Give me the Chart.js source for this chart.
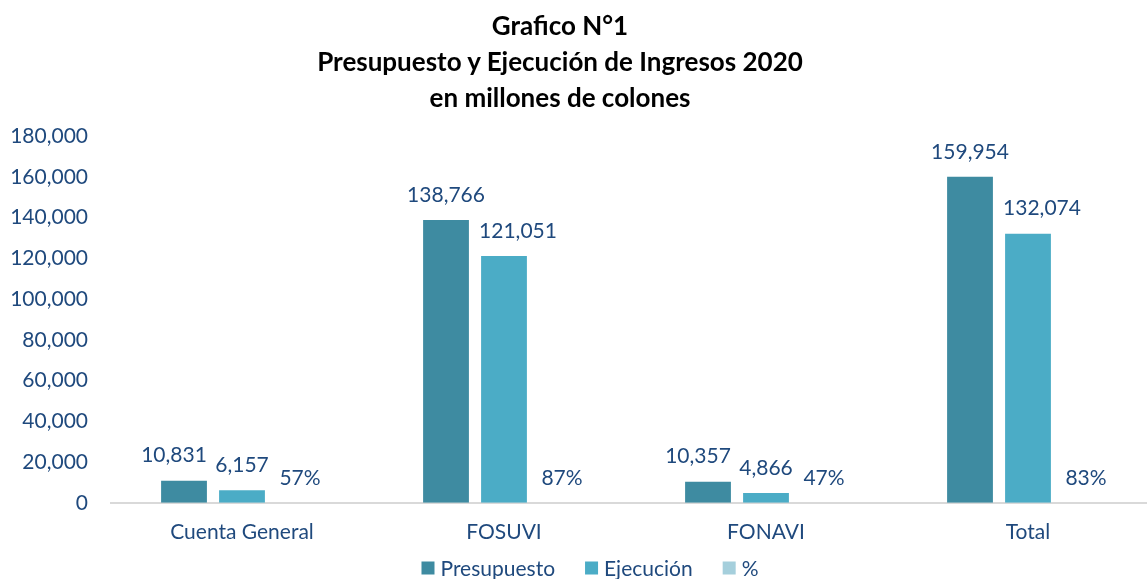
<!DOCTYPE html>
<html>
<head>
<meta charset="utf-8">
<script src="https://cdn.jsdelivr.net/npm/chart.js@4"></script>
<style>
  html, body { margin: 0; padding: 0; background: #fff; overflow: hidden; }
  #wrap { position: relative; width: 1147px; height: 579px; overflow: hidden; }
  #title {
    position: absolute; left: 0; top: 7px; width: 1120px; text-align: center;
    font-family: Lato, "Open Sans", sans-serif; font-weight: bold; font-size: 26px;
    line-height: 36px; color: #000;
  }
  canvas { position: absolute; left: 0; top: 0; }
</style>
</head>
<body>
<div id="wrap">
  <canvas id="chart" width="1175" height="579"></canvas>
  <div id="title">Grafico N°1<br>Presupuesto y Ejecución de Ingresos 2020<br>en millones de colones</div>
</div>
<script>
  // ── Data ──────────────────────────────────────────
  const categories  = ["Cuenta General", "FOSUVI", "FONAVI", "Total"];
  const presupuesto = [10831, 138766, 10357, 159954];
  const ejecucion   = [6157, 121051, 4866, 132074];
  const porcentaje  = [57, 87, 47, 83];   // % de ejecución
  const yTicks      = [0, 20000, 40000, 60000, 80000, 100000, 120000, 140000, 160000, 180000];

  const TXT  = "#1F497D";
  const FONT = "Lato, 'Open Sans', sans-serif";
  const FS   = 21;

  // % is plotted on the value axis as a fraction, so its bar is practically invisible
  const pctOnAxis = porcentaje.map(p => p / 100);

  // ── Labels above the bars ─────────────────────────
  const barLabels = {
    id: "barLabels",
    afterDatasetsDraw(chart) {
      const ctx = chart.ctx;
      ctx.save();
      ctx.font = FS + "px " + FONT;
      ctx.fillStyle = TXT;
      ctx.textAlign = "center";
      ctx.textBaseline = "middle";
      chart.data.datasets.forEach((ds, i) => {
        chart.getDatasetMeta(i).data.forEach((bar, j) => {
          const txt = ds.label === "%"
            ? porcentaje[j] + "%"
            : ds.data[j].toLocaleString("en-US");
          // nudge labels apart where neighbours would touch (as in the original)
          let dx = 0;
          if (i === 0 && ds.data[j] < 20000) dx = -10;
          if (i === 1 && ds.data[j] > 100000) dx = 14;
          ctx.fillText(txt, bar.x + dx, bar.y - 25);
        });
      });
      ctx.restore();
    }
  };

  // ── Legend (drawn by hand for Excel-like spacing) ─
  const bottomLegend = {
    id: "bottomLegend",
    afterDraw(chart) {
      const ctx = chart.ctx;
      const items = chart.data.datasets;
      ctx.save();
      ctx.font = FS + "px " + FONT;
      const box = 13, gapText = 6, gapItem = 30;
      const widths = items.map(d => box + gapText + ctx.measureText(d.label).width);
      const total = widths.reduce((a, b) => a + b, 0) + gapItem * (items.length - 1);
      let x = 590 - total / 2;
      const y = 568;
      ctx.textBaseline = "middle";
      ctx.textAlign = "left";
      items.forEach((d, i) => {
        ctx.fillStyle = d.backgroundColor;
        ctx.fillRect(x, y - box / 2, box, box);
        ctx.fillStyle = TXT;
        ctx.fillText(d.label, x + box + gapText, y + 1);
        x += widths[i] + gapItem;
      });
      ctx.restore();
    }
  };

  new Chart(document.getElementById("chart"), {
    type: "bar",
    data: {
      labels: categories,
      datasets: [
        { label: "Presupuesto", data: presupuesto, backgroundColor: "#3E8BA1" },
        { label: "Ejecución",   data: ejecucion,   backgroundColor: "#4BACC6" },
        { label: "%",           data: pctOnAxis,   backgroundColor: "#A5CFDC" }
      ]
    },
    options: {
      responsive: false,
      animation: false,
      layout: { padding: { top: 136, right: 16, left: 10, bottom: 25 } },
      datasets: { bar: { categoryPercentage: 0.664, barPercentage: 0.79 } },
      plugins: {
        title: { display: false },
        tooltip: { enabled: false },
        legend: { display: false }
      },
      scales: {
        x: {
          grid: { display: false },
          border: { color: "#D9D9D9", width: 2 },
          ticks: { color: TXT, font: { family: FONT, size: FS }, padding: 9 }
        },
        y: {
          min: 0, max: 180000,
          afterBuildTicks: s => { s.ticks = yTicks.map(v => ({ value: v })); },
          afterFit: s => { s.width = 101; },
          grid: { display: false },
          border: { display: false },
          ticks: {
            color: TXT, font: { family: FONT, size: FS }, padding: 15,
            callback: v => v.toLocaleString("en-US")
          }
        }
      }
    },
    plugins: [barLabels, bottomLegend]
  });
</script>
</body>
</html>
